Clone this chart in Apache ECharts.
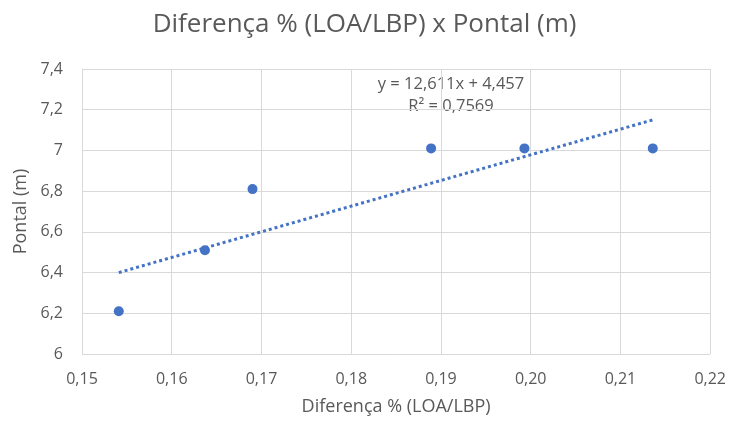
<!DOCTYPE html>
<html><head><meta charset="utf-8">
<script src="https://cdn.jsdelivr.net/npm/echarts@6/dist/echarts.min.js"></script>
<style>html,body{margin:0;padding:0;background:#fff}#c{width:729px;height:421px}</style>
</head><body><div id="c"></div>
<script>
const xValues = [0.1541, 0.1637, 0.1690, 0.1889, 0.1993, 0.2136];
const yValues = [6.21, 6.51, 6.81, 7.01, 7.01, 7.01];
const trendX = [0.1541, 0.2136];
const trendY = [6.40, 7.15];
const xTicks = [0.15, 0.16, 0.17, 0.18, 0.19, 0.20, 0.21, 0.22];
const yTicks = [6, 6.2, 6.4, 6.6, 6.8, 7, 7.2, 7.4];
const titleText = 'Diferença % (LOA/LBP) x Pontal (m)';
const xName = 'Diferença % (LOA/LBP)';
const yName = 'Pontal (m)';
const eqLine1 = 'y = 12,611x + 4,457';
const eqLine2 = 'R² = 0,7569';

const font = 'Open Sans';
const txt = '#595959';
const chart = echarts.init(document.getElementById('c'));
chart.setOption({
  animation: false,
  backgroundColor: '#fff',
  title: { text: titleText, left: 'center', top: 7,
    textStyle: { fontFamily: font, fontSize: 26, fontWeight: 'normal', color: txt } },
  grid: { left: 82, right: 17, top: 69, bottom: 65 },
  xAxis: {
    type: 'value', min: xTicks[0], max: xTicks[xTicks.length-1], interval: 0.01,
    name: xName, nameLocation: 'middle', nameGap: 44,
    nameTextStyle: { fontFamily: font, fontSize: 18, color: txt },
    axisLine: { show: false }, axisTick: { show: false },
    axisLabel: { fontFamily: font, fontSize: 16, color: txt, margin: 17,
      formatter: v => v.toFixed(2).replace('.', ',') },
    splitLine: { show: true, lineStyle: { color: '#d9d9d9', width: 1 } }
  },
  yAxis: {
    type: 'value', min: yTicks[0], max: yTicks[yTicks.length-1], interval: 0.2,
    name: yName, nameLocation: 'middle', nameGap: 51, nameRotate: 90,
    nameTextStyle: { fontFamily: font, fontSize: 18, color: txt },
    axisLine: { show: true, lineStyle: { color: '#d9d9d9' } }, axisTick: { show: false },
    axisLabel: { fontFamily: font, fontSize: 16, color: txt, margin: 19,
      formatter: v => String(Math.round(v*10)/10).replace('.', ',') },
    splitLine: { show: true, lineStyle: { color: '#d9d9d9', width: 1 } }
  },
  series: [
    { type: 'line', data: trendX.map((x, i) => [x, trendY[i]]), symbol: 'none',
      lineStyle: { color: '#4472C4', width: 3, type: 'dotted' }, z: 2 },
    { type: 'scatter', data: xValues.map((x, i) => [x, yValues[i]]), symbol: 'circle',
      symbolSize: 10, itemStyle: { color: '#4472C4', opacity: 1 }, z: 3 }
  ],
  graphic: [
    { type: 'text', x: 451, y: 84, style: { text: eqLine1, font: '16.5px "Open Sans"', fill: txt, textAlign: 'center', textVerticalAlign: 'middle' } },
    { type: 'text', x: 451, y: 106, style: { text: eqLine2, font: '16.5px "Open Sans"', fill: txt, textAlign: 'center', textVerticalAlign: 'middle' } }
  ]
});
</script></body></html>
